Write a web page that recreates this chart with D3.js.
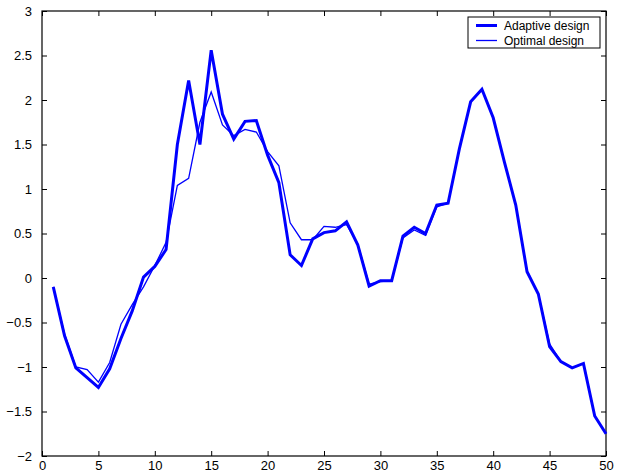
<!DOCTYPE html>
<html>
<head>
<meta charset="utf-8">
<script src="https://cdn.jsdelivr.net/npm/d3@7"></script>
<style>
  html, body { margin: 0; padding: 0; background: #fff; }
  svg { display: block; font-family: "Liberation Sans", Arial, Helvetica, sans-serif; }
</style>
</head>
<body>
<svg id="chart" width="620" height="473"></svg>
<script>
// Sample index 1..50
const steps = d3.range(1, 51);

// Estimates from the adaptive design
const adaptive = [
  -0.10, -0.65, -1.01, -1.12, -1.23, -1.02, -0.68, -0.37, 0.01, 0.13,
  0.32, 1.50, 2.22, 1.50, 2.56, 1.84, 1.56, 1.76, 1.77, 1.38,
  1.07, 0.26, 0.14, 0.44, 0.51, 0.53, 0.63, 0.37, -0.09, -0.03,
  -0.03, 0.47, 0.57, 0.50, 0.82, 0.84, 1.45, 1.98, 2.12, 1.80,
  1.30, 0.82, 0.07, -0.18, -0.77, -0.94, -1.01, -0.96, -1.55, -1.75
];

// Estimates from the optimal design
const optimal = [
  -0.10, -0.63, -1.00, -1.03, -1.17, -0.95, -0.52, -0.30, -0.10, 0.14,
  0.40, 1.04, 1.12, 1.75, 2.09, 1.72, 1.60, 1.67, 1.64, 1.42,
  1.26, 0.62, 0.43, 0.43, 0.58, 0.57, 0.60, 0.38, -0.07, -0.04,
  -0.03, 0.45, 0.54, 0.48, 0.80, 0.84, 1.45, 1.98, 2.12, 1.80,
  1.30, 0.82, 0.08, -0.18, -0.74, -0.94, -1.01, -0.96, -1.55, -1.75
];

const xTicks = [0, 5, 10, 15, 20, 25, 30, 35, 40, 45, 50];
const yTicks = [-2, -1.5, -1, -0.5, 0, 0.5, 1, 1.5, 2, 2.5, 3];

const seriesNames = ["Adaptive design", "Optimal design"];

const svg = d3.select("#chart");
const plotLeft = 42, plotRight = 606, plotTop = 11, plotBottom = 456;

const x = d3.scaleLinear().domain([0, 50]).range([plotLeft, plotRight]);
const y = d3.scaleLinear().domain([-2, 3]).range([plotBottom, plotTop]);

const tickLen = 5;
const fmt = d => String(d).replace("-", "\u2212");

// Bottom axis with inward ticks
const gx = svg.append("g").attr("transform", `translate(0,${plotBottom})`)
  .call(d3.axisBottom(x).tickValues(xTicks).tickSize(-tickLen).tickPadding(5).tickFormat(fmt));
// Top axis ticks (no labels)
const gxt = svg.append("g").attr("transform", `translate(0,${plotTop})`)
  .call(d3.axisTop(x).tickValues(xTicks).tickSize(-tickLen).tickFormat(""));
// Left axis
const gy = svg.append("g").attr("transform", `translate(${plotLeft},0)`)
  .call(d3.axisLeft(y).tickValues(yTicks).tickSize(-tickLen).tickPadding(tickLen + 5).tickFormat(fmt));
// Right axis ticks (no labels)
const gyr = svg.append("g").attr("transform", `translate(${plotRight},0)`)
  .call(d3.axisRight(y).tickValues(yTicks).tickSize(-tickLen).tickFormat(""));

[gx, gxt, gy, gyr].forEach(g => {
  g.select(".domain").remove();
  g.selectAll(".tick line").attr("stroke", "#000").attr("stroke-width", 1);
  g.selectAll("text").attr("fill", "#000").style("font-size", "13px");
});

// Plot frame
svg.append("rect")
  .attr("x", plotLeft).attr("y", plotTop)
  .attr("width", plotRight - plotLeft).attr("height", plotBottom - plotTop)
  .attr("fill", "none").attr("stroke", "#000").attr("stroke-width", 1.2);

const line = d3.line().x((d, i) => x(steps[i])).y(d => y(d));

svg.append("path").datum(optimal)
  .attr("d", line).attr("fill", "none")
  .attr("stroke", "#0000ff").attr("stroke-width", 1.3)
  .attr("stroke-linejoin", "miter");

svg.append("path").datum(adaptive)
  .attr("d", line).attr("fill", "none")
  .attr("stroke", "#0000ff").attr("stroke-width", 3)
  .attr("stroke-linejoin", "miter");

// Legend
const lg = svg.append("g");
lg.append("rect")
  .attr("x", 468).attr("y", 17).attr("width", 132).attr("height", 31)
  .attr("fill", "#fff").attr("stroke", "#000").attr("stroke-width", 1);
const widths = [3, 1.3];
seriesNames.forEach((name, i) => {
  const yy = 25.5 + i * 15;
  lg.append("line")
    .attr("x1", 476).attr("x2", 497).attr("y1", yy).attr("y2", yy)
    .attr("stroke", "#0000ff").attr("stroke-width", widths[i]);
  lg.append("text")
    .attr("x", 504).attr("y", yy + 4.5)
    .style("font-size", "12px").attr("fill", "#000")
    .text(name);
});
</script>
</body>
</html>
